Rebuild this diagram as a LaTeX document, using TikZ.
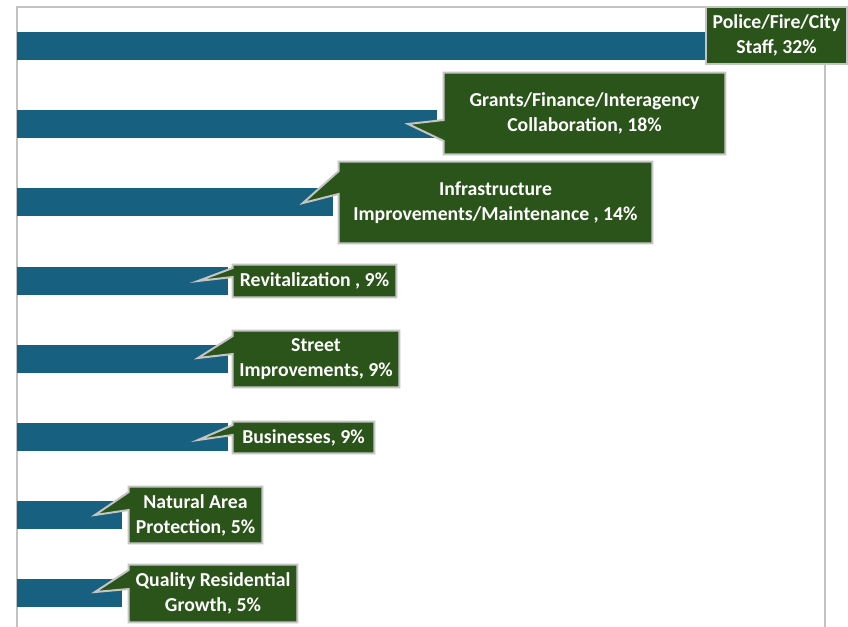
\documentclass[tikz,border=0pt]{standalone}
\usepackage{fontspec}
\setmainfont{Carlito}
\usetikzlibrary{calc}
\pgfdeclarelayer{back}
\pgfdeclarelayer{bg}
\pgfsetlayers{back,bg,main}
\definecolor{barblue}{HTML}{17607F}
\definecolor{boxgreen}{HTML}{2A5419}
\definecolor{edgegray}{HTML}{C4C4C4}
\definecolor{gridgray}{HTML}{C2C2C2}
\tikzset{
  lbl/.style={inner sep=0pt, text=white, align=center,
    font=\bfseries\fontsize{14.8}{18.75}\selectfont},
  calloutshape/.style={fill=boxgreen, draw=edgegray, line width=1.5pt, line join=miter},
  bar/.style={fill=barblue},
  gridline/.style={draw=gridgray, line width=1.1pt}
}
% #1 name, #2 x1, #3 y1, #4 x2, #5 y2, #6 wedge top y, #7 wedge bottom y, #8 tip, #9 text
\newcommand\mycallout[9]{%
  \node[lbl, minimum width={(#4-#2)*0.75pt}, minimum height={(#5-#3)*0.75pt}]
     (#1) at ({(#2+#4)/2},{(#3+#5)/2}) {#9};
  \coordinate (#1-tip) at #8;
  \begin{pgfonlayer}{bg}
  \path[calloutshape] (#1.north west) -- (#1.north east) -- (#1.south east)
     -- (#1.south west) -- (#1.west |- 0,#7) -- (#1-tip) -- (#1.west |- 0,#6) -- cycle;
  \end{pgfonlayer}
}
\begin{document}
\begin{tikzpicture}[x=0.75pt,y=-0.75pt]
\useasboundingbox (0,0) rectangle (848,627);
\begin{pgfonlayer}{back}
  % frame and grid
  \draw[gridline] (17,627) -- (17,7) -- (848,7);
  \draw[gridline] (825,7) -- (825,627);
  % bars
  \fill[bar] (17,32) rectangle (760,60);
  \fill[bar] (17,110) rectangle (437,138);
  \fill[bar] (17,188) rectangle (333,216);
  \fill[bar] (17,267) rectangle (228,295);
  \fill[bar] (17,345) rectangle (228,373);
  \fill[bar] (17,423) rectangle (228,451);
  \fill[bar] (17,501) rectangle (122,529);
  \fill[bar] (17,579) rectangle (122,607);
\end{pgfonlayer}

% police box (no wedge)
\node[lbl, minimum width={141*0.75pt}, minimum height={57*0.75pt}] (police) at (776.5,35.5)
  {Police/Fire/City\\Staff, 32\%};
\begin{pgfonlayer}{bg}
  \path[calloutshape] (police.north west) rectangle (police.south east);
\end{pgfonlayer}

\mycallout{grants}{444}{73}{725}{154}{120}{141}{(408,124)}{Grants/Finance/Interagency\\Collaboration, 18\%}
\mycallout{infra}{339}{162}{652}{243}{171}{194}{(303,203)}{Infrastructure\\Improvements/Maintenance , 14\%}
\mycallout{revit}{233}{265}{396}{297}{268}{277}{(198,281)}{Revitalization , 9\%}
\mycallout{street}{233}{331}{399}{387}{336}{354}{(198,358)}{Street\\Improvements, 9\%}
\mycallout{business}{233}{422}{374}{453}{425}{435}{(198,440)}{Businesses, 9\%}
\mycallout{natural}{129}{487}{262}{543}{492}{510}{(95,515)}{Natural Area\\Protection, 5\%}
\mycallout{quality}{129}{565}{297}{622}{570}{589}{(95,592)}{Quality Residential\\Growth, 5\%}
\end{tikzpicture}
\end{document}
